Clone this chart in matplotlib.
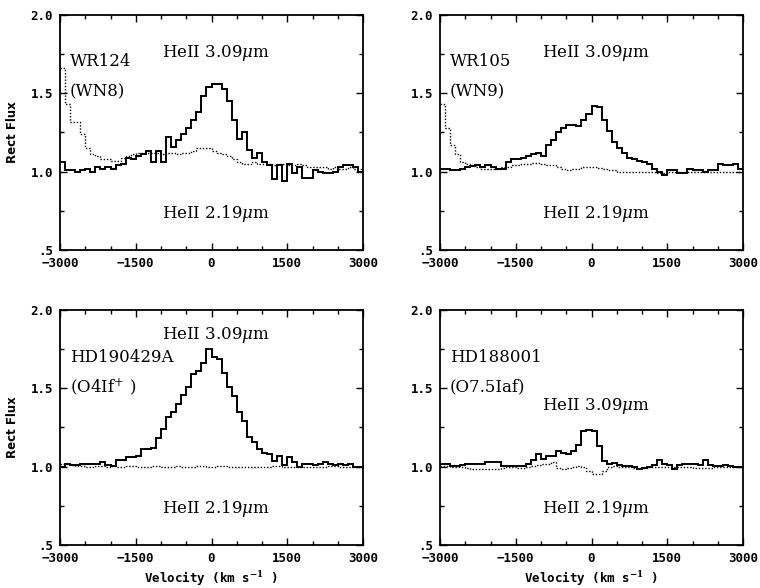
import numpy as np
import matplotlib
matplotlib.use("Agg")
import matplotlib.pyplot as plt
from matplotlib.ticker import MultipleLocator, FixedLocator, FixedFormatter

plt.rcParams['mathtext.fontset'] = 'dejavuserif'

# velocity bin edges (km/s), 100 km/s bins
vel_edges = np.arange(-3000, 3001, 100)

# --- WR124 (WN8) ---
wr124_309 = [1.06, 1.01, 1.01, 1.00, 1.01, 1.02, 1.00, 1.03, 1.02, 1.03,
             1.02, 1.04, 1.05, 1.09, 1.08, 1.10, 1.11, 1.13, 1.06, 1.13,
             1.06, 1.22, 1.16, 1.20, 1.24, 1.28, 1.33, 1.38, 1.48, 1.54,
             1.56, 1.56, 1.53, 1.45, 1.33, 1.21, 1.25, 1.14, 1.09, 1.12,
             1.06, 1.04, 0.95, 1.04, 0.94, 1.05, 0.99, 1.03, 0.96, 0.96,
             1.01, 1.00, 0.99, 0.99, 1.00, 1.03, 1.04, 1.04, 1.03, 1.00]
wr124_219 = [1.66, 1.43, 1.32, 1.32, 1.24, 1.15, 1.11, 1.10, 1.08, 1.08,
             1.065, 1.07, 1.09, 1.10, 1.11, 1.12, 1.12, 1.12, 1.12, 1.12,
             1.11, 1.12, 1.12, 1.11, 1.12, 1.12, 1.13, 1.15, 1.15, 1.15,
             1.13, 1.12, 1.11, 1.10, 1.08, 1.06, 1.05, 1.05, 1.06, 1.05,
             1.05, 1.05, 1.04, 1.05, 1.05, 1.04, 1.04, 1.05, 1.04, 1.03,
             1.03, 1.03, 1.03, 1.02, 1.03, 1.02, 1.02, 1.03, 1.02, 1.02]

# --- WR105 (WN9) ---
wr105_309 = [1.02, 1.02, 1.01, 1.01, 1.02, 1.03, 1.035, 1.04, 1.03, 1.04,
             1.03, 1.02, 1.02, 1.06, 1.08, 1.08, 1.09, 1.10, 1.11, 1.12,
             1.10, 1.17, 1.20, 1.25, 1.28, 1.30, 1.30, 1.29, 1.33, 1.37,
             1.42, 1.41, 1.33, 1.26, 1.19, 1.15, 1.12, 1.09, 1.08, 1.07,
             1.06, 1.05, 1.02, 1.00, 0.98, 1.01, 1.01, 0.99, 0.99, 1.02,
             1.01, 1.01, 1.00, 1.01, 1.01, 1.05, 1.04, 1.04, 1.05, 1.02]
wr105_219 = [1.43, 1.28, 1.17, 1.11, 1.06, 1.05, 1.04, 1.03, 1.02, 1.02,
             1.02, 1.02, 1.03, 1.03, 1.04, 1.04, 1.05, 1.05, 1.055, 1.055,
             1.05, 1.045, 1.04, 1.03, 1.02, 1.01, 1.02, 1.02, 1.03, 1.03,
             1.03, 1.025, 1.02, 1.01, 1.01, 1.00, 1.00, 1.00, 1.00, 1.00,
             1.00, 1.00, 1.00, 0.99, 0.99, 1.00, 1.00, 1.00, 1.00, 1.00,
             1.00, 1.00, 1.00, 1.00, 1.00, 1.00, 1.00, 1.00, 0.995, 0.995]

# --- HD190429A (O4If+) ---
hd190429_309 = [1.00, 1.015, 1.01, 1.01, 1.02, 1.015, 1.015, 1.02, 1.03, 1.01,
                1.005, 1.045, 1.04, 1.06, 1.06, 1.065, 1.11, 1.11, 1.12, 1.18,
                1.24, 1.32, 1.35, 1.40, 1.46, 1.51, 1.59, 1.61, 1.66, 1.75,
                1.70, 1.69, 1.60, 1.51, 1.45, 1.35, 1.29, 1.19, 1.16, 1.11,
                1.09, 1.08, 1.035, 1.07, 1.01, 1.06, 1.03, 1.00, 1.02, 1.02,
                1.01, 1.02, 1.03, 1.02, 1.01, 1.02, 1.01, 1.02, 1.00, 1.00]
hd190429_219 = [1.02, 1.015, 1.01, 1.005, 1.005, 1.00, 1.00, 1.005, 1.005, 1.00,
                1.005, 1.00, 1.00, 1.005, 1.005, 1.00, 1.00, 1.00, 1.005, 1.005,
                1.00, 1.00, 1.00, 1.005, 1.00, 1.00, 1.00, 1.005, 1.005, 1.00,
                1.00, 1.005, 1.005, 1.00, 1.00, 1.00, 1.00, 1.00, 0.995, 1.00,
                1.00, 1.00, 1.005, 1.005, 1.00, 1.00, 1.00, 0.995, 0.995, 1.00,
                1.00, 1.00, 1.00, 1.005, 1.005, 1.00, 1.00, 1.00, 1.00, 1.00]

# --- HD188001 (O7.5Iaf) ---
hd188001_309 = [1.02, 1.02, 1.005, 1.005, 1.01, 1.015, 1.02, 1.02, 1.02, 1.03,
                1.03, 1.03, 1.005, 1.005, 1.005, 1.005, 1.005, 1.02, 1.045, 1.08,
                1.05, 1.065, 1.065, 1.10, 1.09, 1.08, 1.10, 1.14, 1.225, 1.235,
                1.225, 1.13, 1.035, 1.015, 1.025, 1.01, 1.005, 1.005, 0.995, 0.985,
                0.99, 1.00, 1.01, 1.045, 1.02, 1.01, 0.985, 1.01, 1.015, 1.015,
                1.02, 1.01, 1.04, 1.01, 1.005, 1.005, 1.01, 1.005, 1.00, 1.00]
hd188001_219 = [1.005, 1.005, 1.00, 1.00, 0.995, 0.99, 0.985, 0.985, 0.985, 0.985,
                0.985, 0.985, 0.99, 1.00, 0.995, 0.99, 0.99, 0.995, 1.005, 1.01,
                1.015, 1.02, 1.03, 0.99, 0.985, 0.99, 1.00, 1.005, 0.995, 0.97,
                0.95, 0.95, 0.975, 1.00, 1.005, 1.00, 1.00, 0.995, 0.99, 0.99,
                0.99, 0.995, 1.00, 1.00, 1.00, 0.995, 0.995, 1.00, 0.995, 0.995,
                0.99, 0.99, 0.99, 0.99, 0.995, 0.995, 1.00, 1.00, 1.00, 1.00]

star_names = ["WR124", "WR105", "HD190429A", "HD188001"]
star_types = ["(WN8)", "(WN9)", "(O4If$^{+}$ )", "(O7.5Iaf)"]
solid_series = [wr124_309, wr105_309, hd190429_309, hd188001_309]
dotted_series = [wr124_219, wr105_219, hd190429_219, hd188001_219]
label_309_y = [1.76, 1.76, 1.84, 1.39]
label_219_y = [0.73, 0.73, 0.735, 0.735]

xticks = [-3000, -1500, 0, 1500, 3000]
yticks = [0.5, 1.0, 1.5, 2.0]
yticklabels = [".5", "1.0", "1.5", "2.0"]

fig = plt.figure(figsize=(7.6, 5.88), dpi=100)
W, H = 760.0, 588.0
rects = [(60, 15, 303, 235), (440, 15, 303, 235),
         (60, 310, 303, 235), (440, 310, 303, 235)]

tickfont = dict(family="DejaVu Sans Mono", weight="bold", size=9)
textfont = dict(family="DejaVu Serif", size=12)

for i, (x0, y0, w, h) in enumerate(rects):
    ax = fig.add_axes([x0 / W, 1 - (y0 + h) / H, w / W, h / H])
    ax.stairs(solid_series[i], vel_edges, color="black", lw=1.4, baseline=None)
    ax.stairs(dotted_series[i], vel_edges, color="black", lw=1.0,
              linestyle=(0, (1, 1.3)), baseline=None)
    ax.set_xlim(-3000, 3000)
    ax.set_ylim(0.5, 2.0)
    ax.xaxis.set_major_locator(FixedLocator(xticks))
    ax.xaxis.set_minor_locator(MultipleLocator(500))
    ax.yaxis.set_major_locator(FixedLocator(yticks))
    ax.yaxis.set_major_formatter(FixedFormatter(yticklabels))
    ax.yaxis.set_minor_locator(MultipleLocator(0.25))
    ax.set_xticklabels([str(t).replace("-", "\u2212") for t in xticks])
    ax.tick_params(which="both", direction="in", top=True, right=True,
                   width=1.0)
    ax.tick_params(which="major", length=5, pad=5)
    ax.tick_params(which="minor", length=3)
    for lab in ax.get_xticklabels() + ax.get_yticklabels():
        lab.set_fontfamily(tickfont["family"])
        lab.set_fontweight("bold")
        lab.set_fontsize(tickfont["size"])
    for sp in ax.spines.values():
        sp.set_linewidth(1.3)
    ax.text(-990, label_309_y[i], r"HeII 3.09$\mu$m", va="center", ha="left",
            **textfont)
    ax.text(-990, label_219_y[i], r"HeII 2.19$\mu$m", va="center", ha="left",
            **textfont)
    ax.text(-2800, 1.70, star_names[i], va="center", ha="left", **textfont)
    ax.text(-2800, 1.51, star_types[i], va="center", ha="left", **textfont)
    if i % 2 == 0:
        ax.set_ylabel("Rect Flux", fontfamily="DejaVu Sans", fontweight="bold",
                      fontsize=8.5, labelpad=8)
    if i >= 2:
        ax.set_xlabel("Velocity (km s$^{\\mathbf{-1}}$ )", fontfamily="DejaVu Sans Mono",
                      fontweight="bold", fontsize=9, labelpad=3)

fig.savefig("out.png", dpi=100)
